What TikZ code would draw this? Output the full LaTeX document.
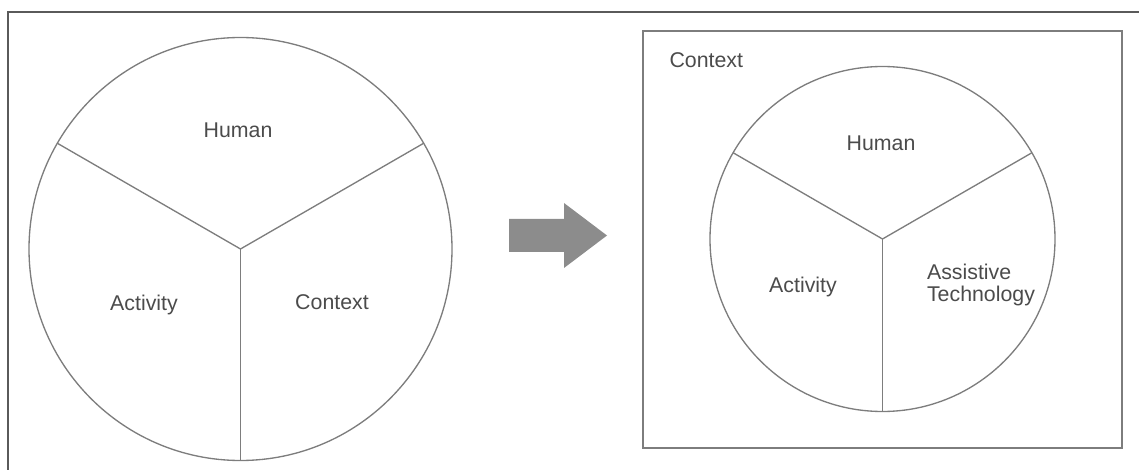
\documentclass[tikz,border=0pt]{standalone}
\usepackage{fontspec}
\setmainfont{Liberation Sans}
\definecolor{framegray}{RGB}{90,90,90}
\definecolor{rimgray}{RGB}{125,125,125}
\definecolor{arrowgray}{RGB}{140,140,140}
\definecolor{textgray}{RGB}{75,75,75}
\tikzset{every picture/.style={line width=0.75pt}}
\tikzset{
  wheel/.style={draw=rimgray, line width=1pt},
  lbl/.style={inner sep=0.75pt, text=textgray, font=\fontsize{16}{17}\selectfont},
}

\begin{document}
\begin{tikzpicture}[x=0.75pt,y=0.75pt,yscale=-1,xscale=1]
\useasboundingbox (0,0) rectangle (1139,470);

%Straight Lines [id:frame]
\draw [framegray, line width=1.5pt] (8,470) -- (8,12) -- (1139,12) ;

%Shape: Circle [id:wheelL]
\coordinate (hubL) at (240.5,249) ;
\draw [wheel] (hubL) circle (211.5) ;
\draw [wheel] (hubL) -- ++(210:211.5) ;
\draw [wheel] (hubL) -- ++(330:211.5) ;
\draw [wheel] (hubL) -- ++(90:211.5) ;

%Shape: Arrow [id:shift]
\fill [arrowgray] (509,219) -- (564,219) -- (564,203) -- (607,235.5) -- (564,268) -- (564,252) -- (509,252) -- cycle ;

%Shape: Rectangle [id:contextbox]
\draw [wheel] (643,31) rectangle (1122,448) ;

%Shape: Circle [id:wheelR]
\coordinate (hubR) at (882.5,239) ;
\draw [wheel] (hubR) circle (172.5) ;
\draw [wheel] (hubR) -- ++(210:172.5) ;
\draw [wheel] (hubR) -- ++(330:172.5) ;
\draw [wheel] (hubR) -- ++(90:172.5) ;

% Text Node
\node [lbl] (humanL) at (238,130) {Human} ;
% Text Node
\node [lbl] (activityL) at (144,305) {Activity} ;
% Text Node
\node [lbl] (contextL) at (332,302) {Context} ;
% Text Node
\node [lbl, anchor=west] (contextbox) at (668,60) {Context} ;
% Text Node
\node [lbl] (humanR) at (881,143) {Human} ;
% Text Node
\node [lbl] (activityR) at (803,287) {Activity} ;
% Text Node
\node [lbl, align=left] (assistR) at (981,285) {Assistive\\Technology} ;

\end{tikzpicture}
\end{document}
